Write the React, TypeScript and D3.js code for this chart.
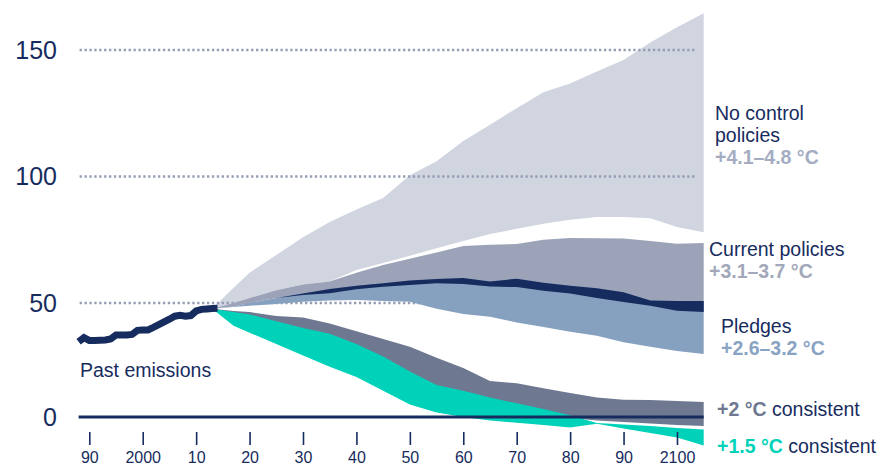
import React, { useEffect, useRef } from 'react';
import * as d3 from 'd3';

// Historic emissions, Gt CO2e per year
const pastYears = [
  1988, 1989, 1990, 1991, 1992, 1993, 1994, 1995, 1996, 1997, 1998, 1999, 2000,
  2001, 2002, 2003, 2004, 2005, 2006, 2007, 2008, 2009, 2010, 2011, 2012, 2013, 2014,
];
const pastEmissions = [
  33.0, 34.8, 33.6, 33.6, 33.7, 33.8, 34.2, 36.0, 36.0, 36.0, 36.2, 38.0, 38.2,
  38.2, 39.3, 40.5, 41.7, 42.9, 44.2, 44.6, 44.2, 44.5, 46.5, 47.2, 47.4, 47.6, 47.7,
];

// Scenario ranges
const projYears = [
  2013, 2017, 2020, 2025, 2030, 2035, 2040, 2045, 2050, 2055,
  2060, 2065, 2070, 2075, 2080, 2085, 2090, 2095, 2100, 2105,
];
const noControlHigh = [
  47.5, 56, 62, 69, 76, 82, 87, 91.5, 100.5, 106,
  114, 120.5, 127, 133.3, 136.8, 141.5, 146, 153, 159, 164.5,
];
const noControlLow = [
  47.5, 50, 52, 55, 57.3, 58.5, 63, 65.8, 68.7, 71.6,
  74.5, 77.3, 79.3, 81.3, 82.9, 84, 84, 83.5, 80, 78,
];
const currentHigh = [
  47.5, 50, 52, 55, 57.3, 58.5, 62, 65, 67.5, 70,
  72.5, 73, 73.3, 75, 75.7, 75.6, 75.5, 74.5, 73.4, 73.7,
];
const currentLow = [
  47.5, 48.5, 50, 52, 53.2, 53.9, 55.4, 56.4, 57.1, 57.8,
  57.5, 56.5, 56.3, 54.8, 53.8, 52, 50.4, 48.8, 46.6, 46.1,
];
const pledgesHigh = [
  47.5, 48.5, 50, 52, 53.8, 55.5, 56.8, 57.8, 58.9, 59.5,
  59.9, 58.5, 59.6, 58, 56.8, 55.8, 54.2, 51, 50.8, 50.8,
];
const pledgesLow = [
  47.5, 48.2, 48.8, 49.6, 50.5, 51, 51.2, 50.8, 50.5, 47.5,
  45.2, 44, 41.5, 39.5, 37.4, 35.6, 32.8, 30.8, 29, 27.6,
];
const twoDegHigh = [
  47.5, 46.5, 46, 44.3, 43.6, 41, 37.6, 34.2, 30.8, 26,
  21.5, 15.8, 14.8, 12.6, 10.5, 8.5, 7.6, 7.5, 7, 6.6,
];
const twoDegLow = [
  47.5, 42, 41, 37, 33, 29, 25, 19, 13, 8,
  6, 4, 2.5, 1, -0.4, -1.5, -2.2, -2.8, -3.5, -4,
];
const onePointFiveHigh = [
  47.5, 46, 45, 42, 39, 36.5, 32, 26.5, 20, 14,
  11.5, 8.5, 6, 3.5, 0.8, -2.6, -3.3, -4, -4.8, -5.5,
];
const onePointFiveLow = [
  47.5, 40, 37, 32, 27, 22, 17.5, 11.5, 5.5, 2,
  0, -1.5, -2.5, -3.5, -4.6, -3, -5, -7, -9, -12.5,
];

const yTicks = [0, 50, 100, 150];
const gridValues = [50, 100, 150];
const xTicks = [1990, 2000, 2010, 2020, 2030, 2040, 2050, 2060, 2070, 2080, 2090, 2100];
const xTickLabels = ['90', '2000', '10', '20', '30', '40', '50', '60', '70', '80', '90', '2100'];

const NAVY = '#172c5e';
const FONT = '"Liberation Sans", Arial, Helvetica, sans-serif';

export default function App() {
  const svgRef = useRef<SVGSVGElement>(null);

  useEffect(() => {
    if (!svgRef.current) return;
    const svg = d3.select(svgRef.current);
    svg.selectAll('*').remove();

    const x = d3.scaleLinear().domain([1988, 2105]).range([78.6, 703.7]);
    // the axis of the original is not evenly spaced below 50
    const y = d3.scaleLinear().domain([0, 50, 150]).range([417, 303, 50]);

    const band = (hi: number[], lo: number[]) =>
      d3.area<number>()
        .x((_, i) => x(projYears[i]))
        .y0((_, i) => y(lo[i]))
        .y1(d => y(d))(hi);

    // No control policies
    svg.append('path').attr('d', band(noControlHigh, noControlLow)).attr('fill', '#d1d5e0');

    // dotted grid
    svg.append('g')
      .selectAll('line')
      .data(gridValues)
      .enter().append('line')
      .attr('x1', x(1988) + 1)
      .attr('x2', x(2103.5))
      .attr('y1', d => y(d))
      .attr('y2', d => y(d))
      .attr('stroke', '#959db4')
      .attr('stroke-width', 2.4)
      .attr('stroke-dasharray', '2.3 2.6');

    // Current policies, pledges and their overlap
    svg.append('path').attr('d', band(currentHigh, currentLow)).attr('fill', '#9ca3b8');
    svg.append('path').attr('d', band(pledgesHigh, pledgesLow)).attr('fill', '#86a1c0');
    const overlapLow = currentLow.map((v, i) => Math.min(v, pledgesHigh[i]));
    svg.append('path').attr('d', band(pledgesHigh, overlapLow)).attr('fill', NAVY);

    // 2 and 1.5 degree pathways
    svg.append('path').attr('d', band(twoDegHigh, twoDegLow)).attr('fill', '#6e7891');
    svg.append('path').attr('d', band(onePointFiveHigh, onePointFiveLow)).attr('fill', '#00d2ba');

    // zero line
    svg.append('line')
      .attr('x1', x(1988))
      .attr('x2', x(2105))
      .attr('y1', y(0))
      .attr('y2', y(0))
      .attr('stroke', NAVY)
      .attr('stroke-width', 3);

    // past emissions
    const line = d3.line<number>()
      .x((_, i) => x(pastYears[i]))
      .y(d => y(d));
    svg.append('path')
      .attr('d', line(pastEmissions))
      .attr('fill', 'none')
      .attr('stroke', NAVY)
      .attr('stroke-width', 7)
      .attr('stroke-linejoin', 'miter');

    // x axis
    svg.append('g')
      .attr('transform', 'translate(0,432)')
      .call(d3.axisBottom(x)
        .tickValues(xTicks)
        .tickFormat((_, i) => xTickLabels[i])
        .tickSize(13)
        .tickPadding(7))
      .call(g => g.select('.domain').remove())
      .call(g => g.selectAll('line').attr('stroke', NAVY).attr('stroke-width', 1.6))
      .call(g => g.selectAll('text')
        .attr('fill', NAVY)
        .attr('font-size', '16px')
        .attr('font-family', FONT));

    // y axis
    svg.append('g')
      .attr('transform', 'translate(57,0)')
      .call(d3.axisLeft(y).tickValues(yTicks).tickSize(0).tickPadding(0).tickFormat(d3.format('d')))
      .call(g => g.select('.domain').remove())
      .call(g => g.selectAll('text')
        .attr('fill', NAVY)
        .attr('font-size', '25px')
        .attr('font-family', FONT));

    // labels
    const labels = [
      { x: 715, y: 119.5, parts: [{ t: 'No control', c: NAVY, b: false }] },
      { x: 715, y: 141.5, parts: [{ t: 'policies', c: NAVY, b: false }] },
      { x: 715, y: 163.5, parts: [{ t: '+4.1–4.8 °C', c: '#a4acc2', b: true }] },
      { x: 709, y: 255.5, parts: [{ t: 'Current policies', c: NAVY, b: false }] },
      { x: 709, y: 277.5, parts: [{ t: '+3.1–3.7 °C', c: '#a2a8ba', b: true }] },
      { x: 721, y: 333, parts: [{ t: 'Pledges', c: NAVY, b: false }] },
      { x: 721, y: 355, parts: [{ t: '+2.6–3.2 °C', c: '#89a3c3', b: true }] },
      { x: 717, y: 416, parts: [{ t: '+2 °C', c: '#6e7891', b: true }, { t: ' consistent', c: NAVY, b: false }] },
      { x: 717, y: 453, parts: [{ t: '+1.5 °C', c: '#00d2ba', b: true }, { t: ' consistent', c: NAVY, b: false }] },
      { x: 80, y: 377, parts: [{ t: 'Past emissions', c: NAVY, b: false }] },
    ];
    labels.forEach(l => {
      const text = svg.append('text')
        .attr('x', l.x)
        .attr('y', l.y)
        .attr('font-family', FONT)
        .attr('font-size', '19.5px');
      l.parts.forEach(p => {
        text.append('tspan')
          .attr('fill', p.c)
          .attr('font-weight', p.b ? 700 : 400)
          .style('white-space', 'pre')
          .text(p.t);
      });
    });
  }, []);

  return (
    <div style={{ position: 'absolute', left: 0, top: 0 }}>
      <svg ref={svgRef} width={894} height={465} style={{ display: 'block' }}></svg>
    </div>
  );
}
